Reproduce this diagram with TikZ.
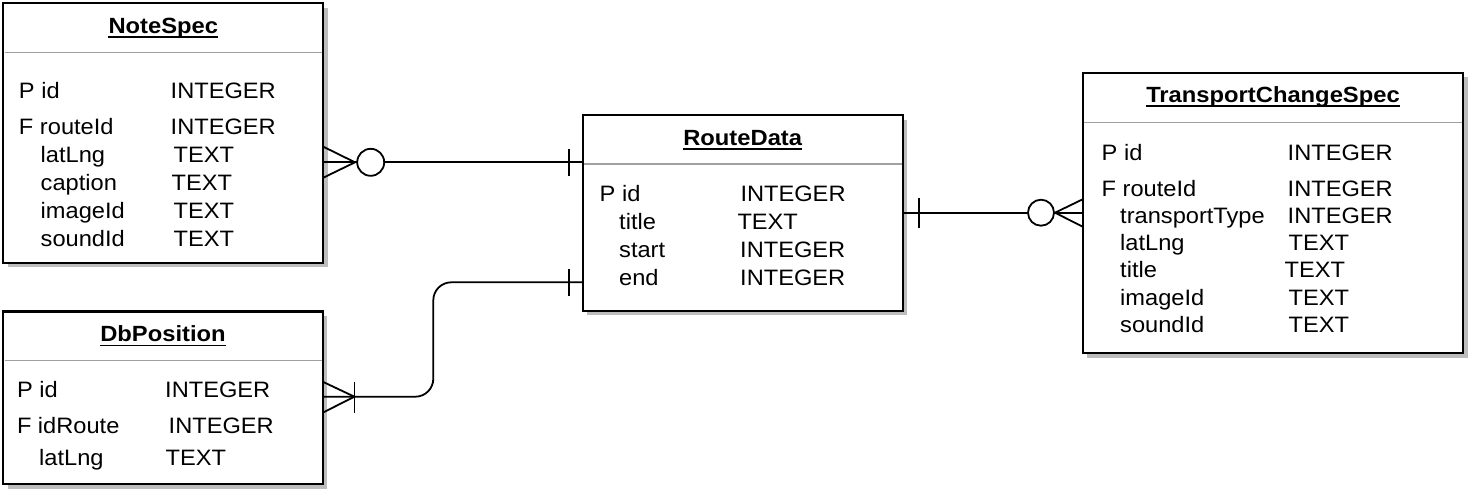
\documentclass[tikz,border=0pt]{standalone}
\usepackage{fontspec}
\setmainfont[FakeStretch=1.06]{Liberation Sans}
\newfontfamily\ttlfont[FakeStretch=1.08]{Liberation Sans}
\usetikzlibrary{calc,shadows}
\definecolor{shadowgray}{HTML}{BDBDBD}
\definecolor{sepgray}{HTML}{A0A0A0}
\begin{document}
\begin{tikzpicture}[x=1pt,y=-1pt,
  entity/.style={draw=black, line width=2.2pt, fill=white, rectangle, inner sep=0pt, outer sep=0pt,
    drop shadow={shadow xshift=4.5pt, shadow yshift=-4.5pt, fill=shadowgray, opacity=1}},
  sepline/.style={draw=sepgray, line width=1.3pt},
  txt/.style={anchor=base west, inner sep=0pt, font=\fontsize{22.3}{26}\selectfont},
  ttl/.style={anchor=base, inner sep=0pt, font=\ttlfont\fontsize{22}{26}\selectfont\bfseries},
  uline/.style={line width=1.6pt},
  conn/.style={line width=1.8pt, draw=black},
  circ/.style={circle, draw=black, line width=1.8pt, fill=white, minimum size=27pt, inner sep=0pt}
]
\fill[white] (0,0) rectangle (1472,496);
\useasboundingbox (0,0) rectangle (1472,496);

% ---------- NoteSpec ----------
\node[entity, minimum width=320pt, minimum height=259.7pt] (NoteSpec) at (163.3,132.9) {};
\draw[sepline] ($(NoteSpec.north west)+(1.2,49.4)$) -- ($(NoteSpec.north east)+(-1.2,49.4)$);
\node[ttl] (NoteSpec-t) at (163.3,33.4) {NoteSpec};
\draw[uline] ($(NoteSpec-t.base west)+(0,3.5)$) -- ($(NoteSpec-t.base east)+(0,3.5)$);
\node[txt] (ns1n) at (18.8,98.3) {P id};
\node[txt] (ns1t) at (170.5,98.3) {INTEGER};
\node[txt] (ns2n) at (18.8,134) {F routeId};
\node[txt] (ns2t) at (170.5,134) {INTEGER};
\node[txt] (ns3n) at (40.5,162) {latLng};
\node[txt] (ns3t) at (173.5,162) {TEXT};
\node[txt] (ns4n) at (40.5,190) {caption};
\node[txt] (ns4t) at (171.5,190) {TEXT};
\node[txt] (ns5n) at (40.5,218) {imageId};
\node[txt] (ns5t) at (173.5,218) {TEXT};
\node[txt] (ns6n) at (40.5,246) {soundId};
\node[txt] (ns6t) at (173.5,246) {TEXT};

% ---------- DbPosition ----------
\node[entity, minimum width=319.4pt, minimum height=172.5pt] (DbPosition) at (163,397.75) {};
\draw[sepline] ($(DbPosition.north west)+(1.2,49.2)$) -- ($(DbPosition.north east)+(-1.2,49.2)$);
\node[ttl] (DbPosition-t) at (163,341.8) {DbPosition};
\draw[uline] ($(DbPosition-t.base west)+(0,3.5)$) -- ($(DbPosition-t.base east)+(0,3.5)$);
\node[txt] (db1n) at (16.8,397.5) {P id};
\node[txt] (db1t) at (165,397.5) {INTEGER};
\node[txt] (db2n) at (16.8,433.5) {F idRoute};
\node[txt] (db2t) at (168.5,433.5) {INTEGER};
\node[txt] (db3n) at (39,465.3) {latLng};
\node[txt] (db3t) at (165.5,465.3) {TEXT};

% ---------- RouteData ----------
\node[entity, minimum width=320pt, minimum height=195.7pt] (RouteData) at (742.7,212.9) {};
\draw[sepline] ($(RouteData.north west)+(1.2,49)$) -- ($(RouteData.north east)+(-1.2,49)$);
\node[ttl] (RouteData-t) at (742.7,145.7) {RouteData};
\draw[uline] ($(RouteData-t.base west)+(0,3.5)$) -- ($(RouteData-t.base east)+(0,3.5)$);
\node[txt] (rd1n) at (599.5,201.7) {P id};
\node[txt] (rd1t) at (740.3,201.7) {INTEGER};
\node[txt] (rd2n) at (619,229.5) {title};
\node[txt] (rd2t) at (737.3,229.5) {TEXT};
\node[txt] (rd3n) at (619,257.5) {start};
\node[txt] (rd3t) at (740,257.5) {INTEGER};
\node[txt] (rd4n) at (619,285.5) {end};
\node[txt] (rd4t) at (740,285.5) {INTEGER};

% ---------- TransportChangeSpec ----------
\node[entity, minimum width=380.6pt, minimum height=280.6pt] (TCS) at (1273,213) {};
\draw[sepline] ($(TCS.north west)+(1.2,50)$) -- ($(TCS.north east)+(-1.2,50)$);
\node[ttl] (TCS-t) at (1273,102.5) {TransportChangeSpec};
\draw[uline] ($(TCS-t.base west)+(0,3.5)$) -- ($(TCS-t.base east)+(0,3.5)$);
\node[txt] (tc1n) at (1101.5,160) {P id};
\node[txt] (tc1t) at (1287.5,160) {INTEGER};
\node[txt] (tc2n) at (1101.5,196) {F routeId};
\node[txt] (tc2t) at (1287.5,196) {INTEGER};
\node[txt] (tc3n) at (1120,223.3) {transportType};
\node[txt] (tc3t) at (1287.5,223.3) {INTEGER};
\node[txt] (tc4n) at (1120,250.6) {latLng};
\node[txt] (tc4t) at (1288.5,250.6) {TEXT};
\node[txt] (tc5n) at (1120,277.9) {title};
\node[txt] (tc5t) at (1284.5,277.9) {TEXT};
\node[txt] (tc6n) at (1120,305.2) {imageId};
\node[txt] (tc6t) at (1288.5,305.2) {TEXT};
\node[txt] (tc7n) at (1120,332.5) {soundId};
\node[txt] (tc7t) at (1288.5,332.5) {TEXT};

% ---------- NoteSpec -- RouteData (zero-or-many to one) ----------
\coordinate (c1a) at (NoteSpec.east |- 0,162.3);
\coordinate (c1b) at (RouteData.west |- 0,162.3);
\draw[conn] (c1a) -- (c1b);
\draw[conn] ($(c1a)+(0,-15.6)$) -- ($(c1a)+(31.7,0)$) -- ($(c1a)+(0,15.4)$);
\node[circ] (o1) at ($(c1a)+(47.4,0)$) {};
\draw[conn] ($(c1b)+(-13.7,-13.3)$) -- ($(c1b)+(-13.7,13.4)$);

% ---------- DbPosition -- RouteData (one-or-many to one) ----------
\coordinate (c2a) at (DbPosition.east |- 0,396.7);
\coordinate (c2b) at (RouteData.west |- 0,282.3);
\draw[conn, rounded corners=18pt] (c2a) -- (433.3,396.7) -- (433.3,282.3) -- (c2b);
\draw[conn] ($(c2a)+(0,-15)$) -- ($(c2a)+(31.7,0)$) -- ($(c2a)+(0,16)$);
\draw[conn] ($(c2a)+(31.7,-15)$) -- ($(c2a)+(31.7,16)$);
\draw[conn] ($(c2b)+(-13.7,-13.3)$) -- ($(c2b)+(-13.7,13.4)$);

% ---------- RouteData -- TransportChangeSpec (one to zero-or-many) ----------
\coordinate (c3a) at (RouteData.east |- 0,212.7);
\coordinate (c3b) at (TCS.west |- 0,212.7);
\draw[conn] (c3a) -- (c3b);
\draw[conn] ($(c3a)+(16.3,-15)$) -- ($(c3a)+(16.3,15.6)$);
\draw[conn] ($(c3b)+(0,-13.4)$) -- ($(c3b)+(-27.7,0)$) -- ($(c3b)+(0,14)$);
\node[circ, minimum size=26pt] (o3) at ($(c3b)+(-41.7,0)$) {};
\end{tikzpicture}
\end{document}
